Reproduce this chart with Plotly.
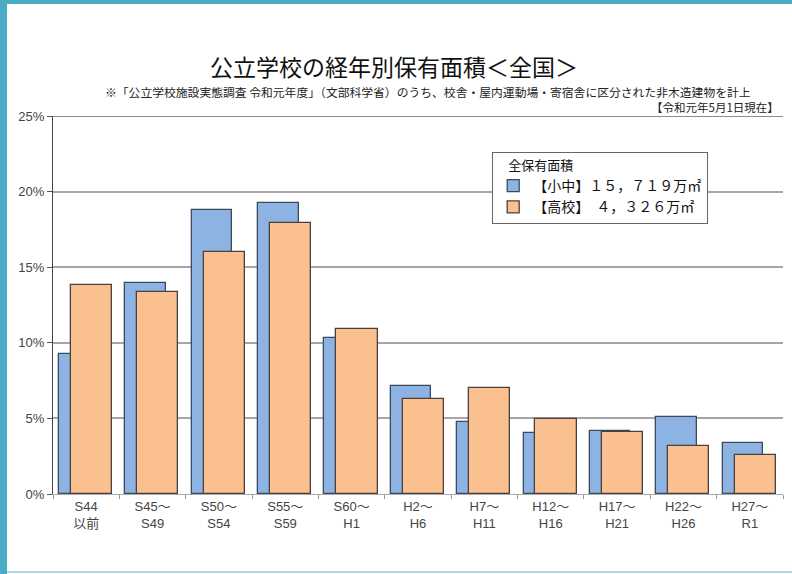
import plotly.graph_objects as go

categories = ["S44<br>以前", "S45～<br>S49", "S50～<br>S54", "S55～<br>S59", "S60～<br>H1",
              "H2～<br>H6", "H7～<br>H11", "H12～<br>H16", "H17～<br>H21", "H22～<br>H26", "H27～<br>R1"]
elem_mid = [9.28, 13.93, 18.76, 19.22, 10.32, 7.14, 4.74, 4.01, 4.17, 5.11, 3.39]
high_school = [13.82, 13.34, 16.03, 17.94, 10.89, 6.28, 6.98, 4.96, 4.07, 3.19, 2.58]
name_elem = "【小中】１５，７１９万㎡"
name_high = "【高校】　４，３２６万㎡"
y_ticks = [0, 5, 10, 15, 20, 25]

FONT = "Liberation Sans, Arial, Noto Sans CJK JP, sans-serif"
JFONT = "Noto Sans CJK JP, sans-serif"
L, R, T, B = 53, 9, 116, 80
W, H = 792, 574
pw = W - L - R
ph = H - T - B

def px(x):
    return (x - L) / pw

def py(y):
    return (H - B - y) / ph

fig = go.Figure()
fig.add_trace(go.Bar(
    x=categories, y=elem_mid, name=name_elem,
    offset=-0.41, width=0.61,
    marker=dict(color="#8db3e2", line=dict(color="#3b4a5e", width=1.3)),
))
fig.add_trace(go.Bar(
    x=categories, y=high_school, name=name_high,
    offset=-0.23, width=0.62,
    marker=dict(color="#fac090", line=dict(color="#4a4040", width=1.3)),
))

shapes = [
    dict(type="line", xref="paper", yref="y", x0=0, x1=1, y0=25, y1=25,
         line=dict(color="#666666", width=1.5), layer="below"),
    dict(type="rect", xref="paper", yref="paper", x0=px(0), x1=px(7), y0=py(0), y1=py(H),
         fillcolor="#4bacc6", line=dict(width=0)),
    dict(type="rect", xref="paper", yref="paper", x0=px(0), x1=px(W), y0=py(0), y1=py(4),
         fillcolor="#4bacc6", line=dict(width=0)),
    dict(type="line", xref="paper", yref="paper", x0=px(7), x1=px(W), y0=py(572), y1=py(572),
         line=dict(color="#a8dbe6", width=2)),
]

annotations = [
    dict(text="公立学校の経年別保有面積＜全国＞", x=px(394), y=py(66), xref="paper", yref="paper",
         showarrow=False, font=dict(family=JFONT, size=23, color="#111111"), xanchor="center", yanchor="middle"),
    dict(text="※「公立学校施設実態調査 令和元年度」（文部科学省）のうち、校舎・屋内運動場・寄宿舎に区分された非木造建物を計上",
         x=px(428), y=py(91), xref="paper", yref="paper", showarrow=False,
         font=dict(family=JFONT, size=11.8, color="#222222"), xanchor="center", yanchor="middle"),
    dict(text="【令和元年5月1日現在】", x=px(781), y=py(107), xref="paper", yref="paper", showarrow=False,
         font=dict(family=JFONT, size=11.5, color="#222222"), xanchor="right", yanchor="middle"),
]

fig.update_layout(
    width=W, height=H,
    margin=dict(l=L, r=R, t=T, b=B, pad=0),
    paper_bgcolor="white", plot_bgcolor="white",
    barmode="overlay",
    bargap=0,
    showlegend=True,
    legend=dict(
        title=dict(text="　全保有面積", font=dict(family=JFONT, size=13, color="#111111")),
        x=px(492), y=py(152), xanchor="left", yanchor="top",
        bgcolor="white", bordercolor="#666666", borderwidth=1.2,
        font=dict(family=JFONT, size=14, color="#111111"),
        itemwidth=30, tracegroupgap=0,
    ),
    font=dict(family=FONT, size=12, color="#444444"),
    xaxis=dict(
        type="category", tickson="boundaries", ticks="outside", ticklen=4,
        tickcolor="#999999", showline=True, linecolor="#aaaaaa", linewidth=1.2,
        tickfont=dict(family=FONT, size=13, color="#444444"),
        showgrid=False, fixedrange=True,
    ),
    yaxis=dict(
        range=[0, 25], tickvals=y_ticks, ticktext=[f"{v}%" for v in y_ticks],
        ticks="outside", ticklen=5, tickcolor="#555555",
        showline=True, linecolor="#444444", linewidth=1.3,
        showgrid=True, gridcolor="#a6a6a6", gridwidth=1.5,
        tickfont=dict(family=FONT, size=13, color="#444444"),
        zeroline=False, fixedrange=True,
    ),
    shapes=shapes,
    annotations=annotations,
)

fig.write_html("out.html", config={"displayModeBar": False},
               post_script="document.body.style.margin='0';document.body.style.overflow='hidden';")
